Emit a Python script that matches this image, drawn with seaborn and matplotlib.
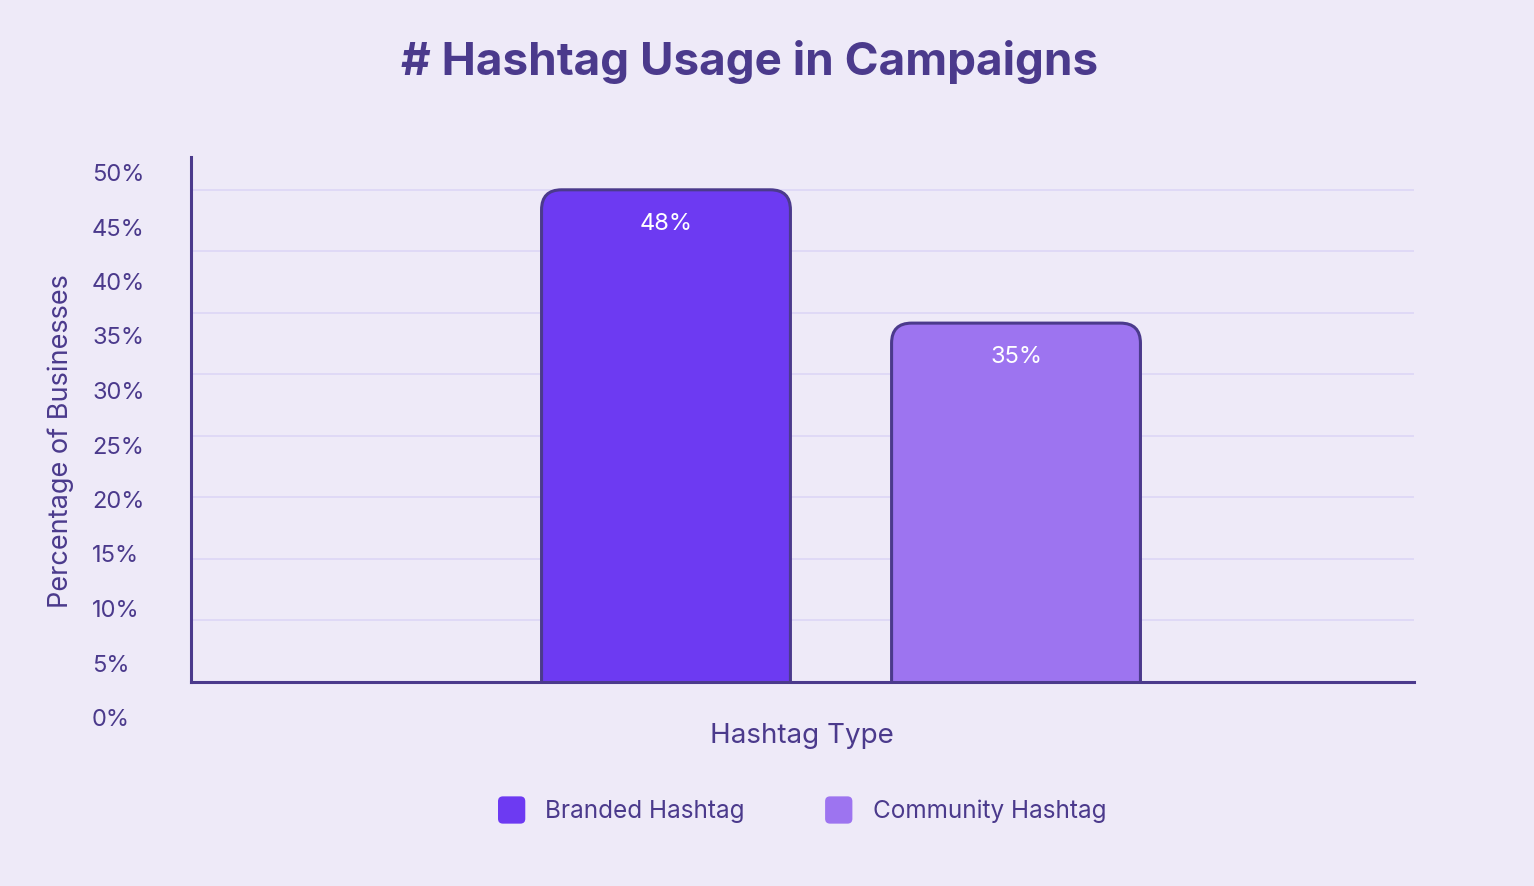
import matplotlib
import matplotlib.pyplot as plt
import seaborn as sns
from matplotlib.legend_handler import HandlerPatch
from matplotlib.patches import FancyBboxPatch, Patch

matplotlib.use("Agg")

# data
hashtag_types = ["Branded Hashtag", "Community Hashtag"]
pct_businesses = [48, 35]
tick_values = [0, 5, 10, 15, 20, 25, 30, 35, 40, 45, 50]
grid_values = [6, 12, 18, 24, 30, 36, 42, 48]

BG = "#EEEAF8"
INK = "#4B3A8C"
GRID = "#DCD6F6"
bar_colors = ["#6D3AF2", "#9D74F0"]

sns.set_theme(style="white")
plt.rcParams["font.family"] = ["Inter", "DejaVu Sans"]

W, H = 1534, 886
fig = plt.figure(figsize=(W / 100, H / 100), dpi=100, facecolor=BG)

# main plotting area (pixel box -> figure fraction)
ax = fig.add_axes([191 / W, (H - 682) / H, (1414 - 191) / W, (682 - 157) / H])
ax.set_facecolor(BG)

sns.barplot(x=hashtag_types, y=pct_businesses, hue=hashtag_types,
            palette=bar_colors, width=0.711, legend=False, ax=ax)

ax.set_xlim(-1.357, 2.137)
ax.set_ylim(0, 51.2)

# swap plain rectangles for rounded-top bars
px_x = 1223 / 3.494
px_y = 525 / 51.2
radius = 20 / px_x
for bar, color in zip(list(ax.patches), bar_colors):
    x0, w, h = bar.get_x(), bar.get_width(), bar.get_height()
    bar.remove()
    rb = FancyBboxPatch((x0, -3), w, h + 3,
                        boxstyle=f"round,pad=0,rounding_size={radius}",
                        mutation_aspect=px_x / px_y,
                        facecolor=color, edgecolor=INK, linewidth=2.2,
                        clip_on=True, zorder=3)
    ax.add_patch(rb)
    ax.annotate(f"{h:.0f}%", (x0 + w / 2, h), xytext=(0, -34),
                textcoords="offset pixels", ha="center", va="center",
                color="white", fontsize=17, zorder=4)

ax.set_yticks(grid_values)
ax.set_yticklabels([])
ax.set_xticks([])
ax.tick_params(length=0)
ax.grid(axis="y", color=GRID, linewidth=1.2, zorder=0)
ax.set_axisbelow(True)
ax.set_xlabel("")
ax.set_ylabel("")
for side in ["top", "right"]:
    ax.spines[side].set_visible(False)
for side in ["left", "bottom"]:
    ax.spines[side].set_color(INK)
    ax.spines[side].set_linewidth(2.2)
    ax.spines[side].set_zorder(5)

# percentage labels sit on their own scale in the original
lab = fig.add_axes([92 / W, (H - 720) / H, 0.01, 545 / H])
lab.set_ylim(0, 50)
lab.set_xlim(0, 1)
lab.axis("off")
for v in tick_values:
    lab.text(0, v, f"{v}%", ha="left", va="center", color=INK, fontsize=17)

fig.text(750 / W, 1 - 62 / H, "# Hashtag Usage in Campaigns", ha="center",
         va="center", color=INK, fontsize=33, fontweight="bold")
fig.text(61 / W, 1 - 441 / H, "Percentage of Businesses", rotation=90,
         ha="center", va="center", color=INK, fontsize=19.5)
fig.text(802 / W, 1 - 736 / H, "Hashtag Type", ha="center", va="center",
         color=INK, fontsize=20)


def rounded_square(legend, orig_handle, xdescent, ydescent, width, height, fontsize):
    side = min(width, height)
    return FancyBboxPatch((-xdescent, -ydescent + (height - side) / 2), side, side,
                          boxstyle=f"round,pad=0,rounding_size={side * 0.18}")


handles = [Patch(facecolor=c, edgecolor="none") for c in bar_colors]
leg = fig.legend(handles, hashtag_types, loc="center", ncol=2,
                 bbox_to_anchor=(802 / W, 1 - 810 / H), frameon=False,
                 fontsize=17.5, handlelength=1.35, handleheight=1.35,
                 handletextpad=0.6, columnspacing=3.3,
                 handler_map={Patch: HandlerPatch(patch_func=rounded_square)})
for t in leg.get_texts():
    t.set_color(INK)

fig.savefig("out.png", dpi=100, facecolor=BG)
